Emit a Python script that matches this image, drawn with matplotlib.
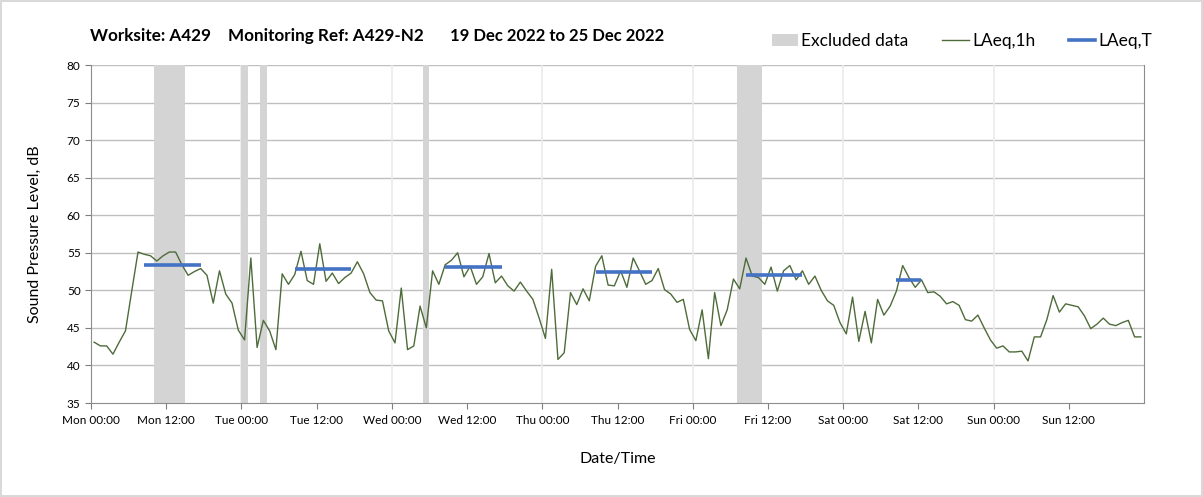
import matplotlib.pyplot as plt
from matplotlib.patches import Patch
from matplotlib.lines import Line2D

plt.rcParams['font.family'] = ['Lato', 'DejaVu Sans']

# hourly LAeq,1h values, Mon 00:00 to Sun 23:00 (168 hours)
laeq_1h = [
    # Mon
    43.1, 42.6, 42.6, 41.5, 43.1, 44.6, 49.9, 55.1, 54.8, 54.6, 53.9, 54.6,
    55.1, 55.1, 53.4, 52.0, 52.5, 52.9, 52.0, 48.3, 52.6, 49.5, 48.3, 44.7,
    # Tue
    43.4, 54.3, 42.4, 46.0, 44.6, 42.1, 52.2, 50.8, 52.1, 55.2, 51.3, 50.8,
    56.2, 51.2, 52.3, 50.9, 51.7, 52.3, 53.8, 52.2, 49.7, 48.7, 48.6, 44.6,
    # Wed
    43.0, 50.3, 42.1, 42.6, 47.9, 45.0, 52.6, 50.8, 53.4, 54.0, 55.0, 51.8,
    53.2, 50.8, 51.8, 54.9, 51.0, 51.9, 50.6, 49.9, 51.1, 49.9, 48.8, 46.3,
    # Thu
    43.6, 52.8, 40.8, 41.7, 49.7, 48.1, 50.2, 48.6, 53.2, 54.6, 50.7, 50.6,
    52.6, 50.4, 54.3, 52.6, 50.8, 51.3, 52.9, 50.1, 49.5, 48.4, 48.8, 44.8,
    # Fri
    43.3, 47.4, 40.9, 49.7, 45.3, 47.4, 51.5, 50.2, 54.3, 51.9, 51.7, 50.8,
    53.1, 49.9, 52.6, 53.3, 51.4, 52.6, 50.8, 51.9, 50.0, 48.6, 48.0, 45.7,
    # Sat
    44.2, 49.1, 43.2, 47.2, 43.0, 48.8, 46.7, 47.9, 49.9, 53.3, 51.7, 50.4,
    51.4, 49.7, 49.8, 49.2, 48.2, 48.5, 48.0, 46.1, 45.9, 46.7, 45.0, 43.4,
    # Sun
    42.3, 42.6, 41.8, 41.8, 41.9, 40.6, 43.8, 43.8, 46.1, 49.3, 47.1, 48.2,
    48.0, 47.8, 46.6, 44.9, 45.5, 46.3, 45.5, 45.3, 45.7, 46.0, 43.8, 43.8,
]

# LAeq,T over the working periods (start hour, end hour from Mon 00:00)
period_start = [8, 32, 56, 80, 104, 128]
period_end = [17, 41, 65, 89, 113, 132]
laeq_t = [53.4, 52.9, 53.1, 52.4, 52.1, 51.4]

# excluded hours (start hour, end hour)
excl_start = [10, 24, 27, 53, 103]
excl_end = [15, 25, 28, 54, 107]

day_names = ['Mon', 'Tue', 'Wed', 'Thu', 'Fri', 'Sat', 'Sun']
tick_labels = [f'{d} {t}' for d in day_names for t in ['00:00', '12:00']]

green = '#4e6b3a'
blue = '#4472c4'
grey = '#d4d4d4'

fig = plt.figure(figsize=(12.03, 4.97), dpi=100)
fig.patch.set_edgecolor('#d9d9d9')
fig.patch.set_linewidth(1.5)
ax = fig.add_axes([91 / 1203, 1 - 403 / 497, (1144 - 91) / 1203, (403 - 65) / 497])

for s, e in zip(excl_start, excl_end):
    ax.axvspan(s, e, color=grey, lw=0, zorder=1)

hours = [h + 0.5 for h in range(len(laeq_1h))]
ax.plot(hours, laeq_1h, color=green, lw=1.0, zorder=3)

for s, e, v in zip(period_start, period_end, laeq_t):
    ax.plot([s + 0.5, e + 0.5], [v, v], color=blue, lw=2.6, solid_capstyle='butt', zorder=4)

ax.set_xlim(0, 168)
ax.set_ylim(35, 80)
ax.set_yticks(range(35, 81, 5))
ax.set_xticks(range(0, 168, 12))
ax.set_xticklabels(tick_labels)
ax.tick_params(axis='both', labelsize=8.5, colors='#7f7f7f', labelcolor='black', length=4)
ax.tick_params(axis='x', pad=4.5)

for y in range(40, 81, 5):
    ax.axhline(y, color='#bfbfbf', lw=1, zorder=0)
for d in range(1, 7):
    ax.axvline(d * 24, color='#ebebeb', lw=1.2, zorder=0)

for side in ['left', 'bottom', 'right']:
    ax.spines[side].set_color('#8c8c8c')
ax.spines['top'].set_visible(False)

ax.set_ylabel('Sound Pressure Level, dB', fontsize=11.5, labelpad=18)
ax.set_xlabel('Date/Time', fontsize=11.5, labelpad=19)

title_y = 1 - 36 / 497
fig.text(90 / 1203, title_y, 'Worksite: A429', fontsize=12.3, fontweight='bold', va='center')
fig.text(228 / 1203, title_y, 'Monitoring Ref: A429-N2', fontsize=12.3, fontweight='bold', va='center')
fig.text(450 / 1203, title_y, '19 Dec 2022 to 25 Dec 2022', fontsize=12, fontweight='bold', va='center')

handles = [Patch(facecolor=grey, edgecolor='none'),
           Line2D([], [], color=green, lw=1),
           Line2D([], [], color=blue, lw=2.6)]
fig.legend(handles, ['Excluded data', 'LAeq,1h', 'LAeq,T'], ncol=3, frameon=False,
           loc='center right', bbox_to_anchor=(1168 / 1203, 1 - 41 / 497),
           fontsize=12.5, handlelength=1.5, handleheight=0.7, handletextpad=0.2,
           columnspacing=1.95)

fig.savefig('out.png', dpi=100)
